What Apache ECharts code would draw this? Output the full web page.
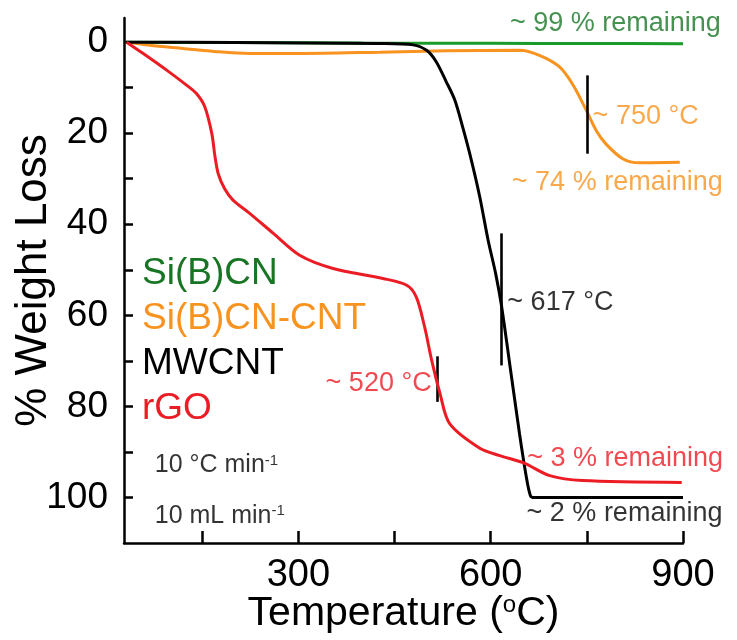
<!DOCTYPE html>
<html>
<head>
<meta charset="utf-8">
<script src="https://cdn.jsdelivr.net/npm/echarts@6/dist/echarts.min.js"></script>
<style>
  html, body { margin: 0; padding: 0; background: #fff; }
  #chart { width: 737px; height: 640px; }
</style>
</head>
<body>
<div id="chart"></div>
<script>
// TGA curves: [temperature °C, % weight loss]
const sibcn = [
  [30, 0], [200, 0.1], [400, 0.2], [600, 0.25], [750, 0.3], [900, 0.35],
]
const sibcnCnt = [
  [32, 0], [68, 0.7], [120, 1.4], [172, 2.1], [224, 2.5], [302, 2.5], [427, 2.2],
  [531, 1.9], [645, 1.8], [676, 2.9], [707, 5.4], [728, 9.3], [750, 15.2],
  [765, 19.5], [780, 22.4], [806, 25.6], [832, 26.5], [895, 26.4],
]
const mwcnt = [
  [30, 0], [200, 0.1], [427, 0.3], [479, 0.6], [500, 1.8], [515, 4.3], [530, 8.5],
  [544, 12.7], [557, 19], [570, 26], [583, 34], [596, 43.5], [608, 51], [617, 58],
  [630, 71], [645, 86], [655, 95], [662, 99.6], [668, 100], [750, 100], [900, 100],
]
const rgo = [
  [32, 0], [58, 2.5], [95, 6.2], [126, 9.5], [141, 11.3], [154, 14.2], [165, 20.1],
  [170, 25.2], [175, 28.9], [185, 32.2], [198, 34.7], [224, 37.6], [261, 42],
  [302, 46.8], [354, 49.7], [432, 51.9], [469, 53.4], [484, 56], [497, 62.6],
  [508, 69.9], [521, 77.2], [536, 83.8], [583, 89.2], [614, 90.8], [653, 92.5],
  [692, 95.2], [743, 96.3], [898, 96.7],
]

// onset markers: [temperature, from %, to %]
const markers = [[750, 7.3, 24.5], [617, 42, 71], [517, 69, 79]]

const xLabels = [300, 600, 900]
const xTicks = [150, 300, 450, 600, 750, 900]
const yLabels = [0, 20, 40, 60, 80, 100]
const yTicks = [0, 10, 20, 30, 40, 50, 60, 70, 80, 90, 100]

const names = ['Si(B)CN', 'Si(B)CN-CNT', 'MWCNT', 'rGO']
const colors = ['#1a9a2a', '#f7931e', '#000000', '#ec1c24']
const textColors = ['#177524', '#f7931e', '#000000', '#ec1c24']

// annotations: [temperature, % loss, text, colour index, align]
const notes = [
  [630, -4, '~ 99 % remaining', 0, 'left'],
  [759, 16.3, '~ 750 °C', 1, 'left'],
  [633, 30.8, '~ 74 % remaining', 1, 'left'],
  [626, 57.1, '~ 617 °C', 2, 'left'],
  [508, 74.9, '~ 520 °C', 3, 'right'],
  [657, 91.4, '~ 3 % remaining', 3, 'left'],
  [656, 103.5, '~ 2 % remaining', 2, 'left'],
  [76, 93, '10 °C min{sup|-1}', 2, 'left'],
  [76, 104, '10 mL min{sup|-1}', 2, 'left'],
]

const font = "'Liberation Sans', Arial, sans-serif"
const chart = echarts.init(document.getElementById('chart'))

const curveSeries = [sibcn, sibcnCnt, mwcnt, rgo].map((data, i) => ({
  name: names[i],
  type: 'line',
  data: data,
  smooth: 0.3,
  showSymbol: false,
  lineStyle: { color: colors[i], width: 3 },
  itemStyle: { color: colors[i] },
  z: 2 + i,
}))

const markerSeries = {
  name: 'markers',
  type: 'line',
  data: [],
  markLine: {
    silent: true,
    symbol: 'none',
    label: { show: false },
    lineStyle: { color: '#000', width: 2.6, type: 'solid' },
    data: markers.map((m) => [{ coord: [m[0], m[1]] }, { coord: [m[0], m[2]] }]),
  },
  z: 10,
}

const noteSeries = {
  name: 'notes',
  type: 'scatter',
  symbolSize: 0,
  clip: false,
  silent: true,
  z: 12,
  data: notes.map((n) => ({
    value: [n[0], n[1]],
    label: {
      show: true,
      position: [0, 0],
      formatter: n[2],
      align: n[4],
      verticalAlign: 'middle',
      color: textColors[n[3]],
      fontFamily: font,
      fontSize: n[2].startsWith('10') ? 25 : 27,
      rich: {
        sup: { fontSize: 15, lineHeight: 12, verticalAlign: 'top', color: textColors[n[3]], fontFamily: font },
      },
    },
  })),
}

chart.setOption({
  animation: false,
  backgroundColor: '#fff',
  grid: { left: 124, right: 54, top: 18, bottom: 97, outerBoundsMode: 'none' },
  legend: {
    orient: 'vertical',
    left: 132,
    top: 250,
    icon: 'none',
    itemWidth: 0,
    itemHeight: 0,
    itemGap: 8,
    selectedMode: false,
    data: names.map((n, i) => ({
      name: n,
      textStyle: { color: textColors[i], fontSize: 37, fontFamily: font },
    })),
  },
  xAxis: {
    type: 'value',
    min: 28,
    max: 900,
    name: 'Temperature ({sup|o}C)',
    nameLocation: 'middle',
    nameGap: 50,
    nameMoveOverlap: false,
    nameTextStyle: {
      color: '#000',
      fontSize: 41,
      fontFamily: font,
      rich: { sup: { fontSize: 24, lineHeight: 16, verticalAlign: 'top', fontFamily: font, color: '#000' } },
    },
    axisLine: { onZero: false, lineStyle: { color: '#000', width: 2.5 } },
    axisTick: { inside: true, length: 12, customValues: xTicks, lineStyle: { color: '#000', width: 2.5 } },
    axisLabel: { customValues: xLabels, color: '#000', fontSize: 38, fontFamily: font, margin: 14 },
    splitLine: { show: false },
  },
  yAxis: {
    type: 'value',
    inverse: true,
    min: -5.3,
    max: 110,
    name: '% Weight Loss',
    nameLocation: 'middle',
    nameGap: 68,
    nameMoveOverlap: false,
    nameTextStyle: { color: '#000', fontSize: 44, fontFamily: font },
    axisLine: { onZero: false, lineStyle: { color: '#000', width: 2.5 } },
    axisTick: { inside: true, length: 9, customValues: yTicks, lineStyle: { color: '#000', width: 2.5 } },
    axisLabel: { customValues: yLabels, color: '#000', fontSize: 37, fontFamily: font, margin: 16 },
    splitLine: { show: false },
  },
  series: [...curveSeries, markerSeries, noteSeries],
})
</script>
</body>
</html>
